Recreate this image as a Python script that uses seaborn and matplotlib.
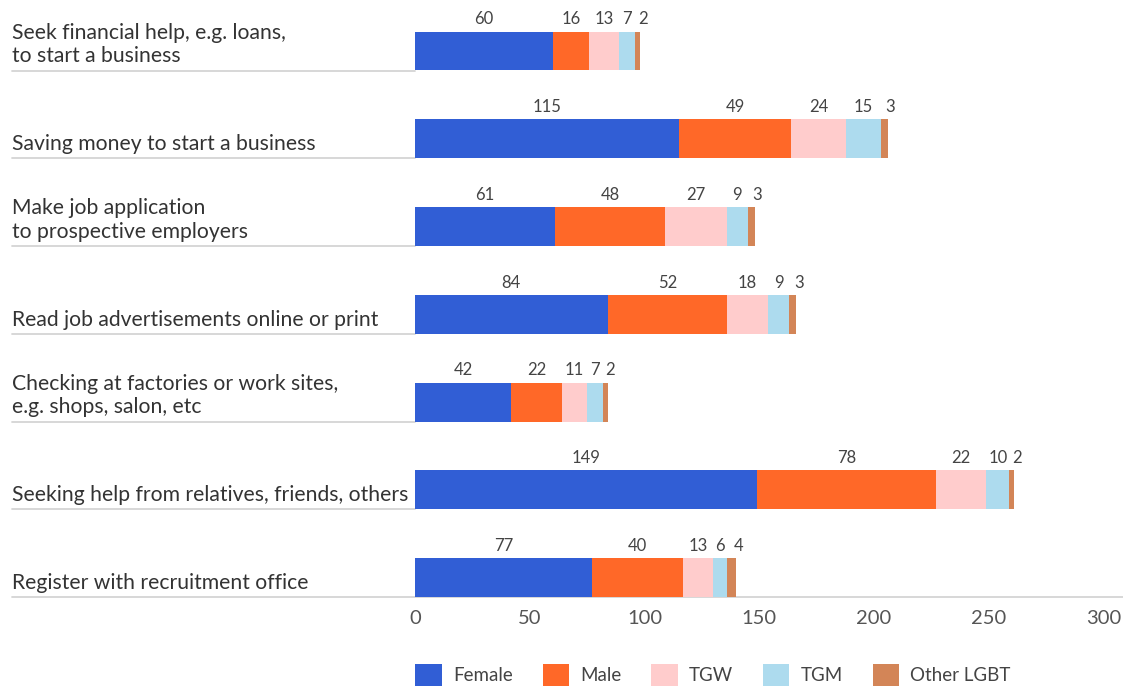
import numpy as np
import pandas as pd
import matplotlib
matplotlib.use("Agg")
import matplotlib.pyplot as plt
import matplotlib.transforms as mtransforms
from matplotlib.patches import Patch
import seaborn as sns

# ---- data ----
categories = [
    "Seek financial help, e.g. loans,\nto start a business",
    "Saving money to start a business",
    "Make job application\nto prospective employers",
    "Read job advertisements online or print",
    "Checking at factories or work sites,\ne.g. shops, salon, etc",
    "Seeking help from relatives, friends, others",
    "Register with recruitment office",
]
female = [60, 115, 61, 84, 42, 149, 77]
male = [16, 49, 48, 52, 22, 78, 40]
tgw = [13, 24, 27, 18, 11, 22, 13]
tgm = [7, 15, 9, 9, 7, 10, 6]
other_lgbt = [2, 3, 3, 3, 2, 2, 4]

series_names = ["Female", "Male", "TGW", "TGM", "Other LGBT"]
series_values = [female, male, tgw, tgm, other_lgbt]
series_colors = ["#315ED5", "#FF6828", "#FFCCCC", "#ADDBEE", "#D38557"]
x_ticks = [0, 50, 100, 150, 200, 250, 300]

# ---- styling ----
sns.set_theme(style="white")
plt.rcParams["font.family"] = ["Lato", "DejaVu Sans"]

W, H, DPI = 1123, 686, 100
fig = plt.figure(figsize=(W / DPI, H / DPI), dpi=DPI)
ax_left, ax_right = 415 / W, 1123 / W
ax_bottom, ax_top = (H - 597) / H, 1.0
ax = fig.add_axes([ax_left, ax_bottom, ax_right - ax_left, ax_top - ax_bottom])

bar_h = 0.444
vals = np.array(series_values, dtype=float)
cum = np.cumsum(vals, axis=0)
starts = cum - vals

df = pd.DataFrame({"category": categories})
for i, name in enumerate(series_names):
    df[name] = cum[i]

# stacked bars: draw cumulative totals from the outermost layer inward
for i in reversed(range(len(series_names))):
    sns.barplot(data=df, y="category", x=series_names[i], color=series_colors[i],
                orient="h", width=bar_h, saturation=1, ax=ax, linewidth=0)

ax.set_xlim(0, 308.6)
ax.set_ylim(6 + bar_h / 2, 6 + bar_h / 2 - 597 / 87.75)
ax.set_xticks(x_ticks)
ax.set_xticklabels([str(t) for t in x_ticks])
ax.tick_params(axis="x", length=0, pad=9, labelsize=14.5, labelcolor="#555555")
ax.set_yticks([])
ax.set_xlabel("")
ax.set_ylabel("")
for side in ["top", "right", "left", "bottom"]:
    ax.spines[side].set_visible(False)

# category labels and row rules, anchored to the left edge of the figure
blend = mtransforms.blended_transform_factory(fig.transFigure, ax.transData)
label_tf = mtransforms.offset_copy(blend, fig=fig, x=0, y=3, units="points")
x0 = 12 / W
for r, cat in enumerate(categories):
    base = r + bar_h / 2
    ax.text(x0, base, cat, transform=label_tf, ha="left", va="bottom",
            fontsize=15.2, color="#333333", linespacing=1.22)
    xr = ax_left if r < len(categories) - 1 else 1.0
    ax.plot([x0, xr], [base, base], transform=blend, color="#d4d4d4",
            lw=1.3, clip_on=False, zorder=0)

# value labels above each segment
n_series = len(series_names)
for i in range(n_series):
    for r in range(len(categories)):
        v = vals[i, r]
        xc = starts[i, r] + v / 2
        if i == n_series - 1:
            xc = cum[i, r] + 1.2
        ax.annotate(f"{int(v)}", xy=(xc, r - bar_h / 2), xytext=(0, 3),
                    textcoords="offset points", ha="center", va="bottom",
                    fontsize=12, color="#444444", annotation_clip=False)

# legend
handles = [Patch(facecolor=c, edgecolor="none", label=n)
           for n, c in zip(series_names, series_colors)]
fig.legend(handles=handles, loc="upper center", ncol=5, frameon=False,
           bbox_to_anchor=(713 / W, 1 - 655 / H), fontsize=13.5,
           handlelength=1.4, handleheight=1.4, handletextpad=0.6,
           columnspacing=1.6, borderpad=0, labelcolor="#444444")

fig.savefig("out.png", dpi=DPI)
